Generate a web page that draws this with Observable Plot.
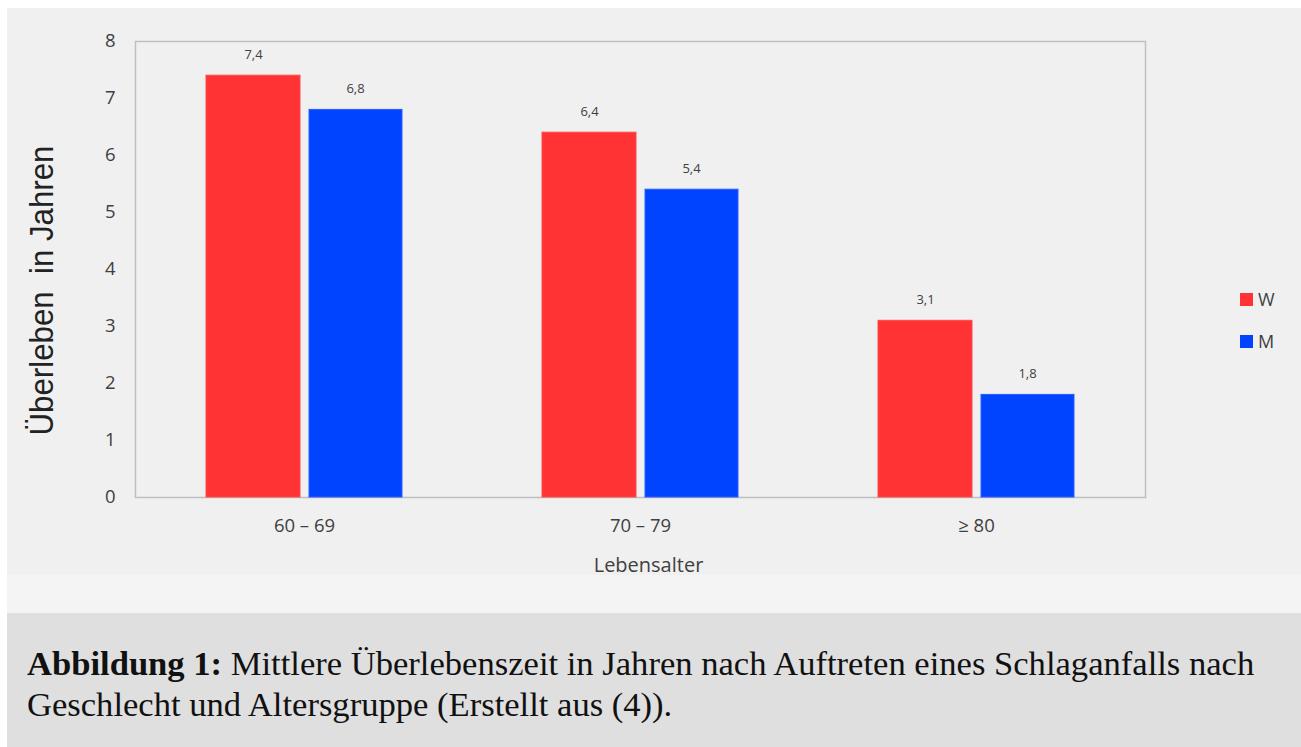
<!DOCTYPE html>
<html>
<head>
<meta charset="utf-8">
<script src="https://cdn.jsdelivr.net/npm/d3@7"></script>
<script src="https://cdn.jsdelivr.net/npm/@observablehq/plot@0.6"></script>
<style>
  html, body { margin: 0; padding: 0; background: #ffffff; width: 1301px; height: 747px; overflow: hidden; }
  #chartbg { position: absolute; left: 7px; top: 8px; width: 1294px; height: 567px; background: #f0f0f0; }
  #lowerbg { position: absolute; left: 7px; top: 575px; width: 1294px; height: 38px; background: #f4f4f4; }
  #chart { position: absolute; left: 7px; top: 8px; }
  #legend { position: absolute; left: 1240px; top: 287px; font-family: "Open Sans", sans-serif; font-size: 18px; color: #404040; }
  .li { display: flex; align-items: center; height: 24px; margin-bottom: 18px; }
  .sw { width: 13px; height: 13px; margin-right: 5px; }
  #caption { position: absolute; left: 7px; top: 613px; width: 1294px; height: 134px; background: #dfdfdf;
    font-family: "Liberation Serif", "Times New Roman", serif; font-size: 34.6px; line-height: 41px; color: #111; box-sizing: border-box; padding: 30px 0 0 20px; white-space: nowrap; }
</style>
</head>
<body>
<div id="chartbg"></div>
<div id="lowerbg"></div>
<div id="chart"></div>
<div id="legend"></div>
<div id="caption"><b>Abbildung 1:</b> Mittlere Überlebenszeit in Jahren nach Auftreten eines Schlaganfalls nach<br>Geschlecht und Altersgruppe (Erstellt aus (4)).</div>
<script>
const groups = ["60 – 69", "70 – 79", "≥ 80"];
const series = ["W", "M"];
const wValues = [7.4, 6.4, 3.1];
const mValues = [6.8, 5.4, 1.8];
const seriesColors = ["#ff3333", "#0044ff"];
const yTicks = [0, 1, 2, 3, 4, 5, 6, 7, 8];
const xTitle = "Lebensalter";
const yTitle = "Überleben  in Jahren";

const wData = groups.map((g, i) => ({group: g, value: wValues[i]}));
const mData = groups.map((g, i) => ({group: g, value: mValues[i]}));
const fmt = v => v.toFixed(1).replace(".", ",");

const chart = Plot.plot({
  width: 1294,
  height: 605,
  marginLeft: 128,
  marginRight: 156,
  marginTop: 33,
  marginBottom: 116,
  style: {background: "transparent", fontFamily: "'Open Sans', sans-serif", overflow: "visible"},
  x: {type: "band", domain: groups, padding: 0, axis: null},
  y: {domain: [0, 8], axis: null},
  marks: [
    Plot.frame({stroke: "#bfbfbf", strokeWidth: 1.5}),
    Plot.barY(wData, {x: "group", y: "value", fill: seriesColors[0], stroke: "#ff4a4a", strokeWidth: 1, insetLeft: 70, insetRight: 172}),
    Plot.barY(mData, {x: "group", y: "value", fill: seriesColors[1], stroke: "#2a5cff", strokeWidth: 1, insetLeft: 173, insetRight: 70}),
    Plot.text(wData, {x: "group", y: "value", text: d => fmt(d.value), dx: -51, dy: -21, fontSize: 13, fill: "#404040"}),
    Plot.text(mData, {x: "group", y: "value", text: d => fmt(d.value), dx: 51, dy: -21, fontSize: 13, fill: "#404040"}),
    Plot.axisY({ticks: yTicks, tickSize: 0, tickPadding: 20, fontSize: 18.5, color: "#404040", label: null}),
    Plot.axisX({tickSize: 0, tickPadding: 21, fontSize: 18.5, color: "#404040", label: null}),
    Plot.text([xTitle], {frameAnchor: "bottom", textAnchor: "middle", dx: 8, dy: 74, fontSize: 20, fill: "#404040"}),
    Plot.text([yTitle], {frameAnchor: "left", textAnchor: "middle", rotate: -90, dx: -93, dy: 21, fontSize: 34, fill: "#222", fontFamily: "'Liberation Sans', Arial, sans-serif"})
  ]
});
d3.select(chart).selectAll("text")
  .filter(function() { return this.textContent === yTitle; })
  .attr("textLength", 290)
  .attr("lengthAdjust", "spacingAndGlyphs");
document.getElementById("chart").appendChild(chart);

const legend = document.getElementById("legend");
series.forEach((s, i) => {
  const row = document.createElement("div");
  row.className = "li";
  const sw = document.createElement("div");
  sw.className = "sw";
  sw.style.background = seriesColors[i];
  const t = document.createElement("span");
  t.textContent = s;
  row.appendChild(sw);
  row.appendChild(t);
  legend.appendChild(row);
});
</script>
</body>
</html>
